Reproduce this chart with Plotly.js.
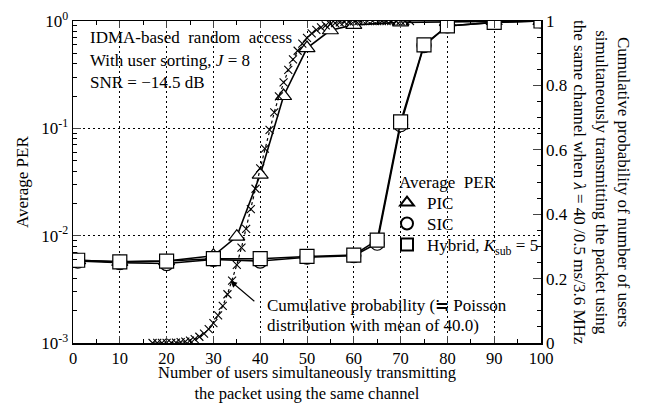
<!DOCTYPE html>
<html><head><meta charset="utf-8">
<script src="https://cdn.plot.ly/plotly-3.0.1.min.js"></script>
<style>html,body{margin:0;padding:0;background:#fff}#plot{width:648px;height:405px}</style>
</head><body><div id="plot"></div>
<script>
// Average PER (left, log axis)
const hybX = [1,10,20,30,40,50,60,65,70,75,80,90,100];
const hybPER = [0.0059,0.0057,0.0058,0.0061,0.0061,0.0064,0.0066,0.0091,0.115,0.60,0.90,0.97,1.0];
const sicX = [1,10,20,30,40,50,60,65,70,75,80,90,100];
const sicPER = [0.0058,0.0056,0.0055,0.0060,0.0058,0.0063,0.0065,0.0085,0.108,0.59,0.90,0.97,1.0];
const picX = [1,10,20,30,35,40,45,50,55,60,70,80,90,100];
const picPER = [0.0059,0.0057,0.0058,0.0065,0.0098,0.037,0.20,0.56,0.82,0.92,0.97,0.98,1.0,1.0];
// Cumulative probability (right axis)
const cumX = [17,18,19,20,21,22,23,24,25,26,27,28,29,30,31,32,33,34,35,36,37,38,39,40,41,42,43,44,45,46,47,48,49,50,51,52,53,54,55,56,57,58,59,60,61,62,63,64,65,66,67,68,69,70,71,72];
const cumP = [0.0000,0.0001,0.0002,0.0004,0.0007,0.0014,0.0026,0.0045,0.0076,0.0123,0.0194,0.0294,0.0432,0.0617,0.0855,0.1153,0.1514,0.1939,0.2425,0.2964,0.3547,0.4161,0.4790,0.5420,0.6034,0.6619,0.7163,0.7658,0.8097,0.8480,0.8805,0.9076,0.9298,0.9475,0.9614,0.9721,0.9801,0.9861,0.9904,0.9935,0.9957,0.9972,0.9982,0.9989,0.9993,0.9996,0.9998,0.9999,0.9999,1.0,1.0,1.0,1.0,1.0,1.0,1.0];
const xTicks = [0,10,20,30,40,50,60,70,80,90,100];
const yTickVals = [0.001,0.01,0.1,1];
const yTickText = ['10<sup>-3</sup>','10<sup>-2</sup>','10<sup>-1</sup>','10<sup>0</sup>'];
const y2Ticks = [0,0.2,0.4,0.6,0.8,1];
const y2TickText = ['0','0.2','0.4','0.6','0.8','1'];

const F = 'Liberation Serif, Times New Roman, serif';
const mk = (sym) => ({symbol: sym, size: 14, color: 'white', line: {color: 'black', width: 1.2}});

const traces = [
  {x: cumX, y: cumP, yaxis: 'y2', mode: 'lines+markers', showlegend: false,
   line: {color: 'black', width: 1.2, dash: 'dot'},
   marker: {symbol: 'x-thin', size: 8, line: {color: 'black', width: 1.1}}},
  {x: picX, y: picPER, mode: 'lines+markers', showlegend: false,
   line: {color: 'black', width: 1.6}, marker: mk('triangle-up')},
  {x: sicX, y: sicPER, mode: 'lines+markers', showlegend: false,
   line: {color: 'black', width: 1.6}, marker: mk('circle')},
  {x: hybX, y: hybPER, mode: 'lines+markers', showlegend: false,
   line: {color: 'black', width: 1.6}, marker: mk('square')},
  // legend entries (markers only)
  {x: [null], y: [null], mode: 'markers', name: 'PIC', marker: mk('triangle-up'), legend: 'legend'},
  {x: [null], y: [null], mode: 'markers', name: 'SIC', marker: mk('circle'), legend: 'legend2'},
  {x: [null], y: [null], mode: 'markers', name: 'Hybrid, <i>K</i><sub>sub</sub> = 5', marker: mk('square'), legend: 'legend3'}
];

const legBase = (ypx) => ({x: (387 - 73) / 468, y: (343 - ypx) / 322, xanchor: 'left', yanchor: 'middle',
  bgcolor: 'rgba(0,0,0,0)', font: {size: 17}, itemsizing: 'constant', borderwidth: 0});

const layout = {
  width: 648, height: 405,
  margin: {l: 73, r: 107, t: 21, b: 62},
  paper_bgcolor: 'white', plot_bgcolor: 'white',
  font: {family: F, size: 17, color: 'black'},
  showlegend: true,
  legend: legBase(203),
  legend2: legBase(224),
  legend3: legBase(245),
  xaxis: {range: [0, 100], tickvals: xTicks, ticks: 'inside', ticklen: 7, tickwidth: 1,
          showline: true, linecolor: 'black', linewidth: 1.5, mirror: 'ticks',
          showgrid: true, gridcolor: 'black', gridwidth: 1, griddash: '2px,3px',
          minor: {dtick: 5, ticks: 'inside', ticklen: 4, tickcolor: 'black', showgrid: false},
          tickfont: {size: 16.5}, zeroline: false},
  yaxis: {type: 'log', range: [-3, 0], tickvals: yTickVals, ticktext: yTickText,
          ticks: 'inside', ticklen: 8, tickwidth: 1,
          showline: true, linecolor: 'black', linewidth: 1.5, mirror: false,
          showgrid: true, gridcolor: 'black', gridwidth: 1, griddash: '2px,3px',
          minor: {dtick: 'D1', ticks: 'inside', ticklen: 4, tickcolor: 'black', showgrid: false},
          tickfont: {size: 17}, zeroline: false},
  yaxis2: {overlaying: 'y', side: 'right', range: [0, 1], tickvals: y2Ticks, ticktext: y2TickText,
           ticks: 'inside', ticklen: 8, tickwidth: 1,
           showline: true, linecolor: 'black', linewidth: 1.5, showgrid: false, zeroline: false,
           minor: {dtick: 0.05, ticks: 'inside', ticklen: 4, tickcolor: 'black'},
           tickfont: {size: 17}},
  annotations: [
    {xref: 'paper', yref: 'paper', x: 0.032, y: 0.95, xanchor: 'left', yanchor: 'middle', showarrow: false,
     text: 'IDMA-based  random  access', font: {size: 17}},
    {xref: 'paper', yref: 'paper', x: 0.032, y: 0.877, xanchor: 'left', yanchor: 'middle', showarrow: false,
     text: 'With user sorting, <i>J</i> = 8', font: {size: 17}},
    {xref: 'paper', yref: 'paper', x: 0.032, y: 0.81, xanchor: 'left', yanchor: 'middle', showarrow: false,
     text: 'SNR = \u221214.5 dB', font: {size: 17}},
    {xref: 'paper', yref: 'paper', x: (397 - 73) / 468, y: (343 - 182) / 322, xanchor: 'left', yanchor: 'middle', showarrow: false,
     text: 'Average  PER', font: {size: 17}},
    {xref: 'paper', yref: 'paper', x: 0.41, y: 0.115, xanchor: 'left', yanchor: 'middle', showarrow: false,
     text: 'Cumulative probability (\u2252 Poisson', font: {size: 17}},
    {xref: 'paper', yref: 'paper', x: 0.41, y: 0.053, xanchor: 'left', yanchor: 'middle', showarrow: false,
     text: 'distribution with mean of 40.0)', font: {size: 17}},
    {x: 33.3, y: 0.197, xref: 'x', yref: 'y2', ax: 27, ay: 23, showarrow: true, text: '',
     arrowhead: 2, arrowsize: 1.2, arrowwidth: 1.1, arrowcolor: 'black', standoff: 2},
    {xref: 'paper', yref: 'paper', x: 0.5, y: -0.19, xanchor: 'center', yanchor: 'bottom', showarrow: false,
     borderpad: 0,
     text: 'Number of users simultaneously transmitting<br>the packet using the same channel', font: {size: 16.5}},
    {xref: 'paper', yref: 'paper', x: -0.109, y: 0.5, xanchor: 'center', yanchor: 'middle', showarrow: false,
     text: 'Average PER', textangle: -90, font: {size: 17}},
    {xref: 'paper', yref: 'paper', x: (602 - 73) / 468, y: 0.5, xanchor: 'center', yanchor: 'middle', showarrow: false,
     textangle: 90, align: 'center',
     text: 'Cumulative probability of number of users<br>simultaneously transmitting the packet using<br>the same channel when <i>\u03bb</i> = 40 /0.5 ms/3.6 MHz',
     font: {size: 17}}
  ]
};
Plotly.newPlot('plot', traces, layout, {displayModeBar: false, staticPlot: true});
</script></body></html>
